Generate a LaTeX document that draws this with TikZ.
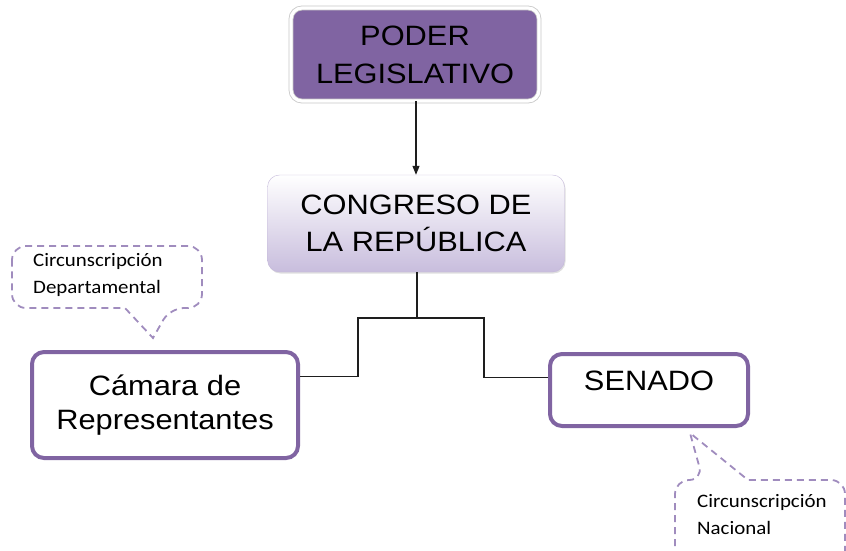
\documentclass[tikz,border=0pt]{standalone}
\usepackage{fontspec}
\setmainfont{Liberation Sans}[FakeStretch=1.1]
\newfontfamily\notefont{Carlito}[FakeStretch=1.1]
\usepackage{tikz}
\usetikzlibrary{arrows.meta, positioning, shadows}
\definecolor{legpurple}{RGB}{128,100,162}
\definecolor{congtop}{RGB}{255,255,255}
\definecolor{congbottom}{RGB}{200,189,221}
\definecolor{congborder}{RGB}{196,184,218}
\definecolor{notecolor}{RGB}{160,140,190}
\definecolor{linkcolor}{RGB}{30,30,30}

\begin{document}
\begin{tikzpicture}[
    x=1pt, y=-1pt,
    titlebox/.style={draw=black!22, line width=0.8pt, double=white, double distance=3.2pt, fill=legpurple, rounded corners=11pt, minimum width=248pt, minimum height=93pt, align=center, font=\fontsize{28}{38}\selectfont, drop shadow={opacity=0.3, shadow xshift=1.5pt, shadow yshift=-1.5pt}},
    midbox/.style={draw=congborder, thin, top color=congtop, bottom color=congbottom, rounded corners=12pt, minimum width=297pt, minimum height=97pt, align=center, font=\fontsize{28}{37}\selectfont, drop shadow={opacity=0.25, shadow xshift=1pt, shadow yshift=-1.5pt}},
    branchbox/.style={draw=legpurple, line width=4pt, fill=white, rounded corners=12pt, align=center, font=\fontsize{28}{34}\selectfont},
    notetext/.style={inner sep=0pt, align=left, anchor=north west, font=\notefont\fontsize{19}{27}\selectfont},
    noteline/.style={draw=notecolor, line width=1.8pt, dash pattern=on 7pt off 5pt},
    link/.style={draw=linkcolor, line width=1.2pt},
    arrow/.style={-{Triangle[length=9pt, width=7pt]}, draw=linkcolor, line width=1.1pt}
]
    \useasboundingbox (0,0) rectangle (846,550);

    % Boxes
    \node[titlebox] (poder) at (415,54.5) {PODER\\LEGISLATIVO};
    \node[midbox] (congreso) at (416,223.5) {CONGRESO DE\\LA REPÚBLICA};
    \node[branchbox, minimum width=266pt, minimum height=106pt] (camara) at (165,405) {Cámara de\\Representantes};
    \node[branchbox, minimum width=198pt, minimum height=72pt, text height=20pt, text depth=20pt] (senado) at (649,390) {SENADO};

    % Notes
    \node[notetext] (deptnote) at (33,253) {Circunscripción\\Departamental};
    \node[notetext] (nalnote) at (697,494) {Circunscripción\\Nacional};

    % Note outlines
    \draw[noteline, rounded corners=14pt] (12,277) |- (202,246) |- (170,308) [sharp corners] -- (153,338) -- (125,308) [rounded corners=14pt] -| (12,277) -- cycle;
    \draw[noteline, rounded corners=14pt] (675,570) |- (703,480) [sharp corners] -- (690,433) -- (748,480) [rounded corners=14pt] -| (845,570);

    % Connectors
    \draw[arrow] (poder.south -| congreso.north) -- (congreso.north);
    \coordinate (fork) at (417,318);
    \draw[link] (congreso.south -| fork) -- (fork);
    \draw[link] (camara.12) -| ([xshift=-59pt]fork) -- ([xshift=67pt]fork) |- (senado.173);
\end{tikzpicture}
\end{document}
